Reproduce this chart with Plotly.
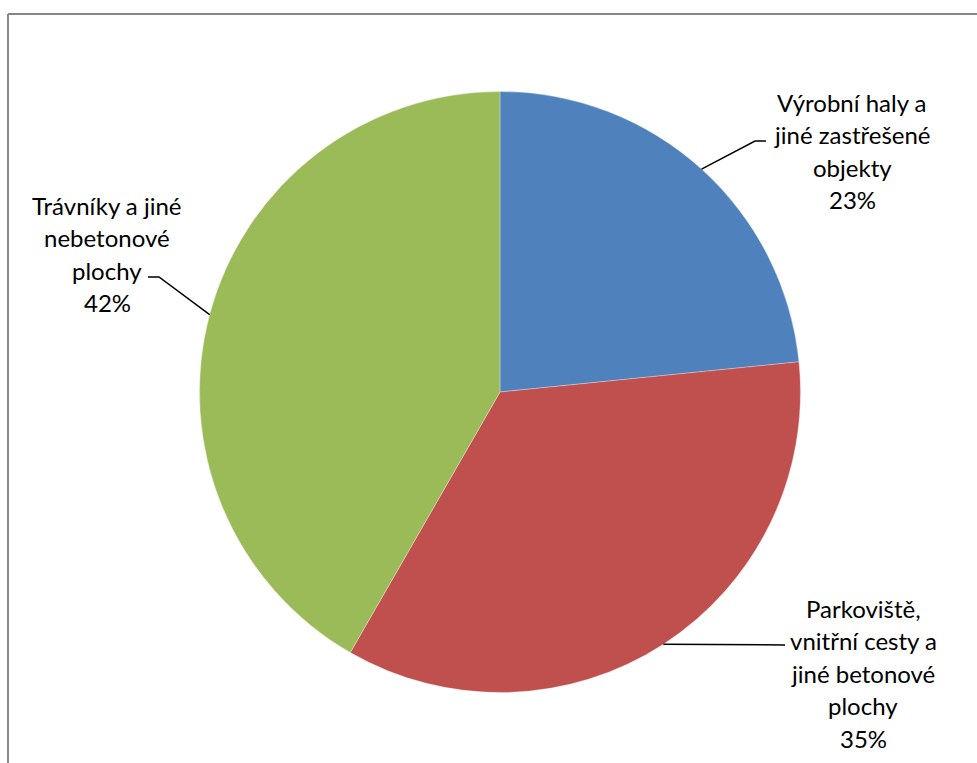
import math
import plotly.graph_objects as go

# ---- data ----
labels = ["Výrobní haly a jiné zastřešené objekty",
          "Parkoviště, vnitřní cesty a jiné betonové plochy",
          "Trávníky a jiné nebetonové plochy"]
label_lines = [["Výrobní haly a", "jiné zastřešené", "objekty"],
               ["Parkoviště,", "vnitřní cesty a", "jiné betonové", "plochy"],
               ["Trávníky a jiné", "nebetonové", "plochy"]]
values = [23.4, 34.9, 41.7]
colors = ["#4F81BD", "#C0504D", "#9BBB59"]

W, H = 977, 763
CX, CY, R = 500, 392, 300.5

def px(x):
    return x / W

def py(y):
    return 1 - y / H

fig = go.Figure()
fig.add_trace(go.Pie(
    labels=labels, values=values, sort=False, direction="clockwise", rotation=0,
    marker=dict(colors=colors, line=dict(color="rgba(255,255,255,0.6)", width=0.5)),
    textinfo="none", hoverinfo="label+percent", showlegend=False,
    domain=dict(x=[px(CX - R), px(CX + R)], y=[py(CY + R), py(CY - R)]),
))

# label layout (positions only)
label_pos = [dict(cx=852, top=86, elbow=(755, 141), end=(766, 141)),
             dict(cx=863, top=592, elbow=None, end=(785, 645)),
             dict(cx=107, top=189, elbow=(159, 277), end=(148, 277))]
LINE_H = 32.5
FONT = "Lato"

total = sum(values)
cum = 0.0
shapes = []
annotations = []
for i, v in enumerate(values):
    mid = (cum + v / 2) / total * 2 * math.pi
    cum += v
    ax = CX + R * math.sin(mid)
    ay = CY - R * math.cos(mid)
    p = label_pos[i]
    pts = [(ax, ay)]
    if p["elbow"]:
        pts.append(p["elbow"])
    pts.append(p["end"])
    path = "M " + " L ".join(f"{px(x):.5f},{py(y):.5f}" for x, y in pts)
    shapes.append(dict(type="path", xref="paper", yref="paper", path=path,
                       line=dict(color="black", width=1.5)))
    pct = round(v / total * 100)
    lines = label_lines[i] + [f"{pct}%"]
    for j, t in enumerate(lines):
        annotations.append(dict(
            x=px(p["cx"]), y=py(p["top"] + LINE_H * (j + 0.5)), xref="paper", yref="paper",
            text=t, showarrow=False, xanchor="center", yanchor="middle",
            font=dict(family=FONT, size=24, color="black")))

# chart area border
shapes.append(dict(type="line", xref="paper", yref="paper", x0=px(8), x1=1.01, y0=py(14), y1=py(14),
                   line=dict(color="#878787", width=2)))
shapes.append(dict(type="line", xref="paper", yref="paper", x0=px(8), x1=px(8), y0=py(14), y1=-0.01,
                   line=dict(color="#878787", width=2)))

fig.update_layout(width=W, height=H, margin=dict(l=0, r=0, t=0, b=0),
                  paper_bgcolor="white", plot_bgcolor="white",
                  shapes=shapes, annotations=annotations)
fig.write_html("out.html")
